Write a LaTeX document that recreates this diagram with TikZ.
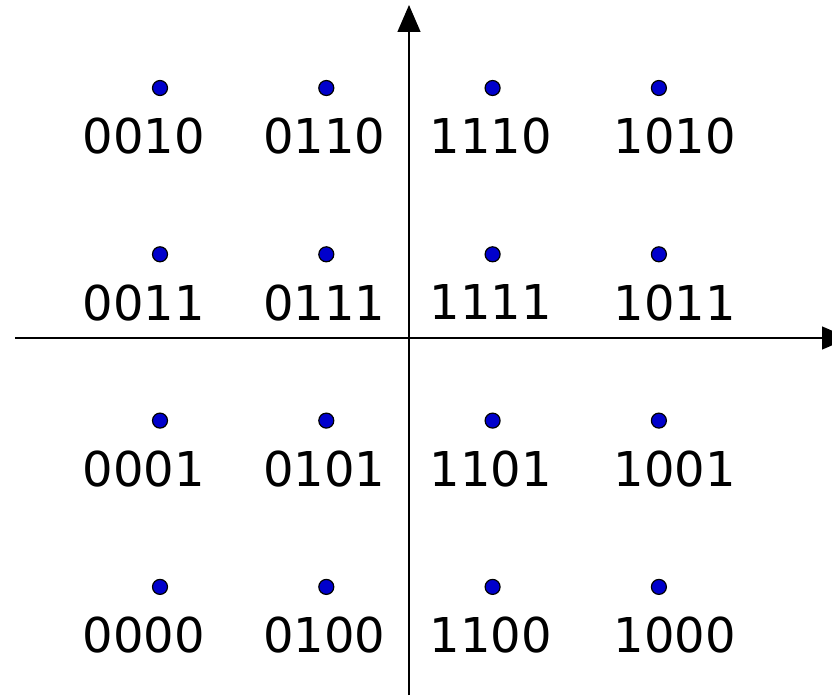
\documentclass[tikz,border=0pt]{standalone}
\usepackage{fontspec}
\setmainfont{DejaVu Sans}
\usepackage{xcolor}
\usetikzlibrary{arrows.meta,positioning}
\definecolor{ptblue}{RGB}{0,0,204}

\begin{document}
\begin{tikzpicture}[x=1pt,y=-1pt,
  pt/.style={circle,draw=black,fill=ptblue,line width=1.2pt,inner sep=0pt,minimum size=15pt},
  lbl/.style={font=\fontsize{48}{52}\selectfont,inner sep=0pt},
  axis/.style={line width=1.3pt,-{Triangle[length=27pt,width=23pt]}}]
\useasboundingbox (0,0) rectangle (832,698);
% axes
\coordinate (ybot) at (409,695); \coordinate (ytop) at (409,5);
\coordinate (xlft) at (15,338); \coordinate (xrgt) at (849,338);
\draw[axis] (ybot)--(ytop); \draw[axis] (xlft)--(xrgt);
% constellation points with their bit labels
\foreach \lab [count=\i from 0] in {0010,0110,1110,1010,0011,0111,1111,1011,0001,0101,1101,1001,0000,0100,1100,1000} {
  \pgfmathtruncatemacro\c{mod(\i,4)} \pgfmathtruncatemacro\r{div(\i,4)}
  \pgfmathsetmacro\dx{{-16,-2,-2,16}[\c]}
  \node[pt] (p\lab) at (160+166.3*\c,88+166.3*\r) {};
  \node[lbl,below=22pt of p\lab,xshift=\dx pt] (l\lab) {\lab};
}
\end{tikzpicture}
\end{document}
